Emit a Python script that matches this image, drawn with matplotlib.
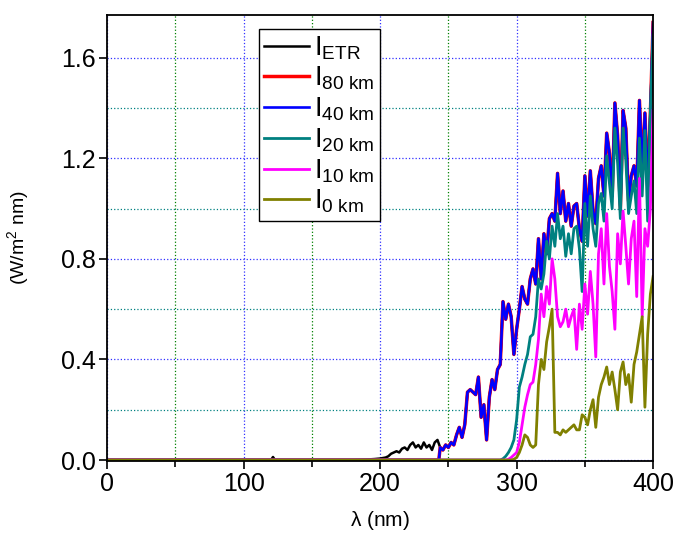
import numpy as np
import matplotlib
matplotlib.use('Agg')
from matplotlib import pyplot as plt
from matplotlib.ticker import MultipleLocator

plt.rcParams['font.family'] = ['Liberation Sans', 'DejaVu Sans']
plt.rcParams['mathtext.fontset'] = 'custom'
plt.rcParams['mathtext.rm'] = 'Liberation Sans'
plt.rcParams['mathtext.it'] = 'Liberation Sans'

# extraterrestrial spectrum below 244 nm (wavelength, W/m2 nm)
wl_etr_low = [0, 120, 121.5, 123, 180, 190, 196, 200, 204, 206, 208, 210, 212, 214,
              216, 218, 220, 222, 224, 226, 228, 230, 232, 234, 236, 238, 240, 242]
etr_low = [0, 0, 0.012, 0, 0, 0.002, 0.004, 0.006, 0.01, 0.015, 0.025, 0.03, 0.035, 0.03,
           0.045, 0.05, 0.04, 0.06, 0.07, 0.05, 0.06, 0.045, 0.07, 0.05, 0.06, 0.04, 0.07, 0.08]

# common wavelength grid 244..400 nm, 2 nm step
wl = np.arange(244, 401, 2)

i_40 = [0.05, 0.04, 0.06, 0.05, 0.07, 0.06, 0.10, 0.13, 0.09, 0.14,
        0.27, 0.28, 0.27, 0.26, 0.33, 0.17, 0.22, 0.08, 0.25, 0.32,
        0.28, 0.36, 0.38, 0.63, 0.56, 0.62, 0.57, 0.42, 0.52, 0.60,
        0.69, 0.64, 0.62, 0.72, 0.76, 0.70, 0.88, 0.72, 0.90, 0.82,
        0.96, 0.98, 0.95, 1.14, 0.98, 1.07, 0.95, 1.02, 0.93, 1.01,
        1.02, 0.92, 0.87, 1.13, 0.97, 1.15, 0.99, 0.94, 1.12, 1.17,
        1.05, 1.30, 1.22, 1.05, 1.42, 1.29, 1.00, 1.39, 1.32, 1.03,
        1.13, 1.17, 1.09, 1.43, 1.15, 1.38, 1.09, 1.38, 1.74]
# 80 km overlaps 40 km within reading precision
i_80 = list(i_40)

i_20 = [0] * 23 + [
        0.005, 0.015, 0.03, 0.05, 0.08, 0.16, 0.29, 0.33, 0.38, 0.42,
        0.49, 0.50, 0.57, 0.72, 0.68, 0.74, 0.87, 0.80, 0.93, 0.85,
        0.98, 0.88, 0.93, 0.81, 0.90, 0.82, 0.92, 0.93, 0.84, 0.67,
        1.02, 0.85, 1.05, 0.92, 0.85, 1.02, 1.06, 0.95, 1.21, 1.10,
        1.00, 1.32, 1.18, 0.96, 1.32, 1.19, 0.98, 1.05, 1.11, 0.98,
        1.28, 1.05, 1.31, 0.95, 1.39, 1.69]

i_10 = [0] * 25 + [
        0.003, 0.01, 0.02, 0.03, 0.07, 0.14, 0.21, 0.26, 0.30, 0.31,
        0.38, 0.48, 0.66, 0.57, 0.69, 0.62, 0.80, 0.72, 0.57, 0.53,
        0.55, 0.60, 0.53, 0.57, 0.60, 0.44, 0.62, 0.52, 0.70, 0.58,
        0.75, 0.62, 0.41, 0.82, 0.92, 0.70, 0.98, 0.77, 0.67, 0.52,
        0.90, 0.78, 0.99, 0.85, 0.70, 0.88, 0.95, 0.65, 1.12, 0.57,
        0.92, 0.85, 1.00, 1.39]

i_0 = [0] * 27 + [
       0.003, 0.01, 0.03, 0.06, 0.10, 0.09, 0.06, 0.05, 0.06, 0.30,
       0.40, 0.36, 0.47, 0.53, 0.60, 0.11, 0.11, 0.10, 0.12, 0.11,
       0.12, 0.13, 0.14, 0.12, 0.12, 0.18, 0.17, 0.14, 0.20, 0.24,
       0.13, 0.25, 0.30, 0.33, 0.37, 0.30, 0.35, 0.28, 0.20, 0.35,
       0.39, 0.30, 0.34, 0.23, 0.38, 0.43, 0.50, 0.57, 0.21, 0.50,
       0.66, 0.73]

lead_x = [0, 243]
lead_y = [0, 0]

fig = plt.figure(figsize=(6.74, 5.33), dpi=100)
ax = fig.add_axes([0.159, 0.135, 0.81, 0.837])

ax.plot(wl_etr_low + list(wl), etr_low + i_80, color='black', lw=1.8, label=r'I$_{\mathrm{ETR}}$')
ax.plot(lead_x + list(wl), lead_y + i_80, color='#ff0000', lw=2.5, label=r'I$_{\mathrm{80\ km}}$')
ax.plot(lead_x + list(wl), lead_y + i_40, color='#0000ff', lw=1.9, label=r'I$_{\mathrm{40\ km}}$')
ax.plot(lead_x + list(wl), lead_y + i_20, color='#008080', lw=2.0, label=r'I$_{\mathrm{20\ km}}$')
ax.plot(lead_x + list(wl), lead_y + i_10, color='#ff00ff', lw=2.0, label=r'I$_{\mathrm{10\ km}}$')
ax.plot(lead_x + list(wl), lead_y + i_0, color='#808000', lw=2.0, label=r'I$_{\mathrm{0\ km}}$')

ax.set_xlim(0, 400)
ax.set_ylim(-0.004, 1.77)
ax.xaxis.set_major_locator(MultipleLocator(100))
ax.xaxis.set_minor_locator(MultipleLocator(50))
ax.yaxis.set_major_locator(MultipleLocator(0.4))
ax.yaxis.set_minor_locator(MultipleLocator(0.2))
ax.yaxis.set_major_formatter(plt.FormatStrFormatter('%.1f'))

ax.grid(which='major', axis='both', color='#3030ff', ls=':', lw=0.9)
ax.grid(which='minor', axis='x', color='#008000', ls=':', lw=0.9)
ax.grid(which='minor', axis='y', color='#008080', ls=':', lw=0.9)
ax.set_axisbelow(True)

ax.tick_params(which='major', direction='out', length=6, width=1.2, labelsize=18, pad=2)
ax.tick_params(which='minor', axis='x', direction='out', length=4, width=1.2)
ax.tick_params(which='minor', axis='y', length=0)
for s in ax.spines.values():
    s.set_linewidth(1.3)

ax.set_ylabel(r'(W/m$^{2}$ nm)', fontsize=14, labelpad=22)
ax.set_xlabel(r'$\lambda$ (nm)', fontsize=15, labelpad=9)

leg = ax.legend(loc='upper left', bbox_to_anchor=(0.278, 0.969), borderaxespad=0,
                fontsize=19.5, handlelength=1.65, handletextpad=0.2, labelspacing=0.12,
                borderpad=0.2, fancybox=False, framealpha=1)
leg.get_frame().set_edgecolor('black')
leg.get_frame().set_linewidth(1.0)

plt.savefig('out.png', dpi=100)
